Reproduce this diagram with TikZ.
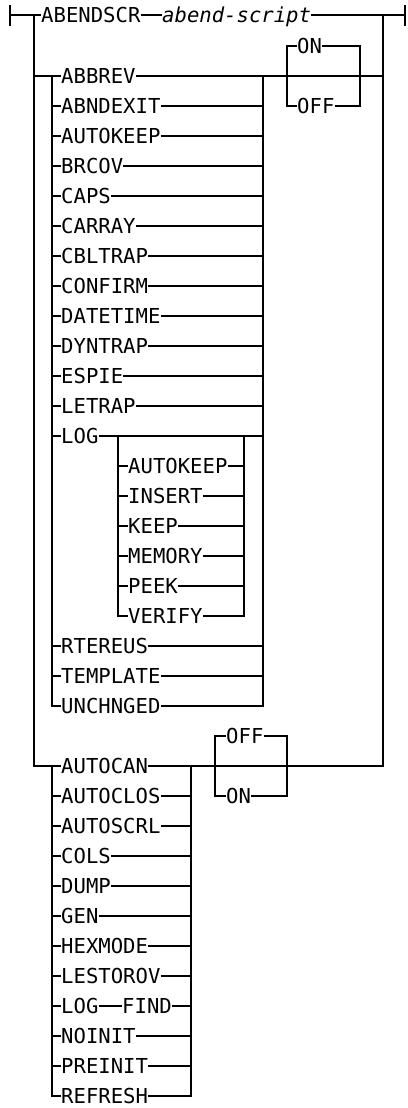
\documentclass[tikz,border=0pt]{standalone}
\usepackage{fontspec}
\newfontfamily\railfont[Scale=2.06]{DejaVu Sans Mono}
\usepackage{tikz}
\usetikzlibrary{calc}

\begin{document}
\begin{tikzpicture}[
    x=1pt, y=-1pt,
    kw/.style={anchor=west, inner sep=0pt, text height=15pt, text depth=0pt,
               font=\railfont},
    var/.style={kw, font=\railfont\itshape},
    rail/.style={line width=1.6pt},
]
\useasboundingbox (0,0) rectangle (407,1108);

% Junction points of the rails
\coordinate (tickLt) at (10,5);   \coordinate (tickLb) at (10,26);
\coordinate (tickRt) at (405,5);  \coordinate (tickRb) at (405,26);
\coordinate (tickL) at (10,15);   \coordinate (tickR) at (405,15);
\coordinate (split) at (34,15);   \coordinate (join) at (383,15);
\coordinate (g1in) at (52,76);    \coordinate (g1out) at (263,76);
\coordinate (sw1a) at (287,76);   \coordinate (sw1b) at (360,76);
\coordinate (login) at (118,436); \coordinate (logout) at (244,436);
\coordinate (g2in) at (52,766);   \coordinate (g2out) at (191,766);
\coordinate (sw2a) at (215,766);  \coordinate (sw2b) at (287,766);

% Top line
\node[kw] (abendscr) at (41,15) {ABENDSCR};
\node[var] (script) at (162,15) {abend-script};

% First group of options
\node[kw] (abbrev) at (61,76) {ABBREV};
\node[kw] (abndexit) at (61,106) {ABNDEXIT};
\node[kw] (autokeep) at (61,136) {AUTOKEEP};
\node[kw] (brcov) at (61,166) {BRCOV};
\node[kw] (caps) at (61,196) {CAPS};
\node[kw] (carray) at (61,226) {CARRAY};
\node[kw] (cbltrap) at (61,256) {CBLTRAP};
\node[kw] (confirm) at (61,286) {CONFIRM};
\node[kw] (datetime) at (61,316) {DATETIME};
\node[kw] (dyntrap) at (61,346) {DYNTRAP};
\node[kw] (espie) at (61,376) {ESPIE};
\node[kw] (letrap) at (61,406) {LETRAP};
\node[kw] (log) at (61,436) {LOG};
\node[kw] (rtereus) at (61,646) {RTEREUS};
\node[kw] (template) at (61,676) {TEMPLATE};
\node[kw] (unchnged) at (61,706) {UNCHNGED};

% LOG suboptions
\node[kw] (lautokeep) at (128,466) {AUTOKEEP};
\node[kw] (linsert) at (128,496) {INSERT};
\node[kw] (lkeep) at (128,526) {KEEP};
\node[kw] (lmemory) at (128,556) {MEMORY};
\node[kw] (lpeek) at (128,586) {PEEK};
\node[kw] (lverify) at (128,616) {VERIFY};

% ON / OFF switch
\node[kw] (on1) at (297,46) {ON};
\node[kw] (off1) at (297,106) {OFF};

% Second group of options
\node[kw] (autocan) at (61,766) {AUTOCAN};
\node[kw] (autoclos) at (61,796) {AUTOCLOS};
\node[kw] (autoscrl) at (61,826) {AUTOSCRL};
\node[kw] (cols) at (61,856) {COLS};
\node[kw] (dump) at (61,886) {DUMP};
\node[kw] (gen) at (61,916) {GEN};
\node[kw] (hexmode) at (61,946) {HEXMODE};
\node[kw] (lestorov) at (61,976) {LESTOROV};
\node[kw] (log2) at (61,1006) {LOG};
\node[kw] (find) at (122,1006) {FIND};
\node[kw] (noinit) at (61,1036) {NOINIT};
\node[kw] (preinit) at (61,1066) {PREINIT};
\node[kw] (refresh) at (61,1096) {REFRESH};

% OFF / ON switch
\node[kw] (off2) at (226,736) {OFF};
\node[kw] (on2) at (226,796) {ON};

% Main rail
\draw[rail] (tickLt) -- (tickLb);
\draw[rail] (tickRt) -- (tickRb);
\draw[rail] (tickL) -- (abendscr.west);
\draw[rail] (abendscr.east) -- (script.west);
\draw[rail] (script.east) -- (tickR);
\draw[rail] (split) |- (abbrev.west);
\draw[rail] (split) |- (autocan.west);
\draw[rail] (join) |- (sw2b);
\draw[rail] (abbrev.east) -- (abbrev.east -| join);

% First group rails
\draw[rail] (g1in) |- (abndexit.west) (abndexit.east) -| (g1out);
\draw[rail] (g1in) |- (autokeep.west) (autokeep.east) -| (g1out);
\draw[rail] (g1in) |- (brcov.west) (brcov.east) -| (g1out);
\draw[rail] (g1in) |- (caps.west) (caps.east) -| (g1out);
\draw[rail] (g1in) |- (carray.west) (carray.east) -| (g1out);
\draw[rail] (g1in) |- (cbltrap.west) (cbltrap.east) -| (g1out);
\draw[rail] (g1in) |- (confirm.west) (confirm.east) -| (g1out);
\draw[rail] (g1in) |- (datetime.west) (datetime.east) -| (g1out);
\draw[rail] (g1in) |- (dyntrap.west) (dyntrap.east) -| (g1out);
\draw[rail] (g1in) |- (espie.west) (espie.east) -| (g1out);
\draw[rail] (g1in) |- (letrap.west) (letrap.east) -| (g1out);
\draw[rail] (g1in) |- (log.west) (log.east) -| (g1out);
\draw[rail] (g1in) |- (rtereus.west) (rtereus.east) -| (g1out);
\draw[rail] (g1in) |- (template.west) (template.east) -| (g1out);
\draw[rail] (g1in) |- (unchnged.west) (unchnged.east) -| (g1out);

% LOG suboption rails
\draw[rail] (login) |- (lautokeep.west) (lautokeep.east) -| (logout);
\draw[rail] (login) |- (linsert.west) (linsert.east) -| (logout);
\draw[rail] (login) |- (lkeep.west) (lkeep.east) -| (logout);
\draw[rail] (login) |- (lmemory.west) (lmemory.east) -| (logout);
\draw[rail] (login) |- (lpeek.west) (lpeek.east) -| (logout);
\draw[rail] (login) |- (lverify.west) (lverify.east) -| (logout);

% ON / OFF rails
\draw[rail] (sw1a) |- (on1.west) (on1.east) -| (sw1b);
\draw[rail] (sw1a) |- (off1.west) (off1.east) -| (sw1b);

% Second group rails
\draw[rail] (autocan.east) -- (sw2b);
\draw[rail] (g2in) |- (autoclos.west) (autoclos.east) -| (g2out);
\draw[rail] (g2in) |- (autoscrl.west) (autoscrl.east) -| (g2out);
\draw[rail] (g2in) |- (cols.west) (cols.east) -| (g2out);
\draw[rail] (g2in) |- (dump.west) (dump.east) -| (g2out);
\draw[rail] (g2in) |- (gen.west) (gen.east) -| (g2out);
\draw[rail] (g2in) |- (hexmode.west) (hexmode.east) -| (g2out);
\draw[rail] (g2in) |- (lestorov.west) (lestorov.east) -| (g2out);
\draw[rail] (g2in) |- (log2.west) (log2.east) -- (find.west);
\draw[rail] (find.east) -| (g2out);
\draw[rail] (g2in) |- (noinit.west) (noinit.east) -| (g2out);
\draw[rail] (g2in) |- (preinit.west) (preinit.east) -| (g2out);
\draw[rail] (g2in) |- (refresh.west) (refresh.east) -| (g2out);

% OFF / ON rails
\draw[rail] (sw2a) |- (off2.west) (off2.east) -| (sw2b);
\draw[rail] (sw2a) |- (on2.west) (on2.east) -| (sw2b);
\end{tikzpicture}
\end{document}
